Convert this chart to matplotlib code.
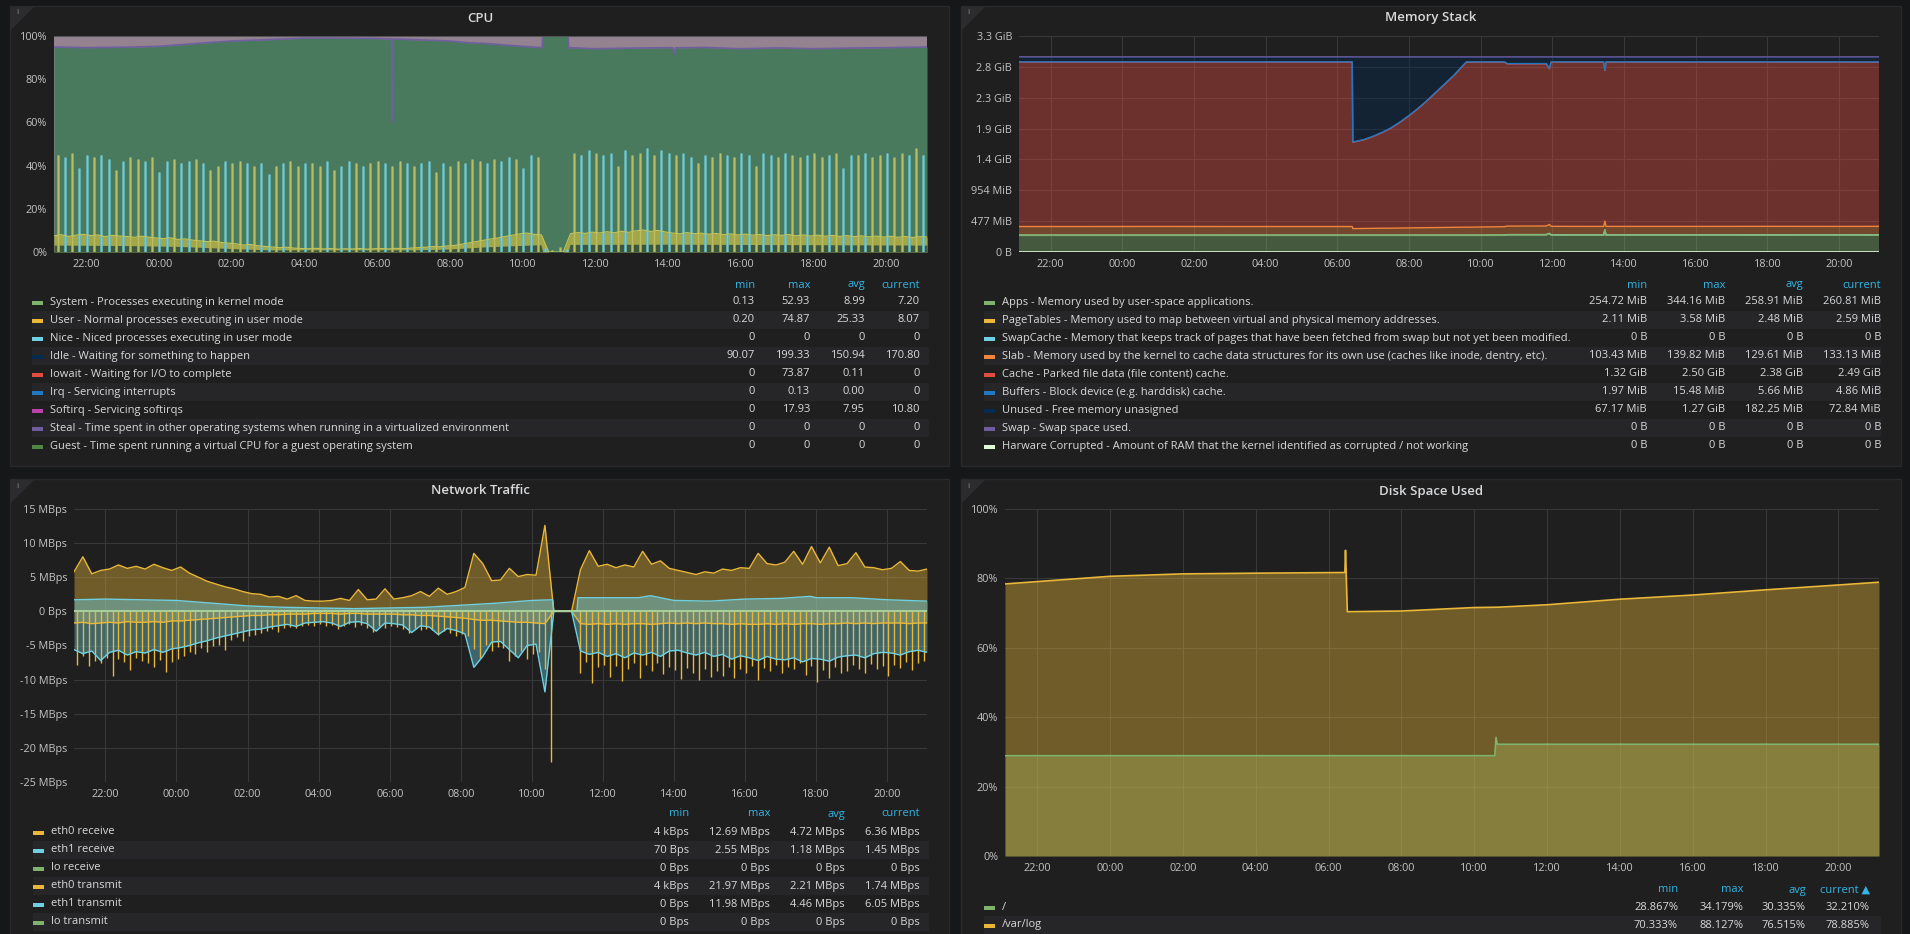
import matplotlib.pyplot as plt
import matplotlib.dates as mdates
from matplotlib.patches import Rectangle, Polygon
import numpy as np
from datetime import datetime, timedelta

plt.rcParams['font.family'] = ['Open Sans', 'DejaVu Sans']

W, H = 1910, 934
PAGE = '#161719'
PANEL = '#1f1f20'
BORDER = '#2a2a2c'
STRIPE = '#262628'
TEXT = '#d8d9da'
TICK = '#c3c3c3'
HEAD = '#33b5e5'
GRID = '#38383a'

T0 = datetime(2018, 3, 1, 21, 7)
T1 = T0 + timedelta(hours=24)


def clock(labels):
    # "HH:MM" strings -> datetimes, rolling over midnight
    out, day, prev = [], 0, -1
    for s in labels:
        h, m = (int(v) for v in s.split(':'))
        mins = h * 60 + m
        if mins < prev:
            day += 1
        prev = mins
        out.append(datetime(2018, 3, 1, h, m) + timedelta(days=day))
    return out


def grid(n, step, first=0):
    return [T0 + timedelta(minutes=first + step * i) for i in range(n)]


# ---------------- CPU (percent of stack) ----------------
cpu_labels = ['System - Processes executing in kernel mode',
              'User - Normal processes executing in user mode',
              'Nice - Niced processes executing in user mode',
              'Idle - Waiting for something to happen',
              'Iowait - Waiting for I/O to complete',
              'Irq - Servicing interrupts',
              'Softirq - Servicing softirqs',
              'Steal - Time spent in other operating systems when running in a virtualized environment',
              'Guest - Time spent running a virtual CPU for a guest operating system']
cpu_colors = ['#7eb26d', '#eab839', '#6ed0e0', '#052b51', '#e24d42',
              '#1f78c1', '#ba43a9', '#705da0', '#508642']
cpu_min = ['0.13', '0.20', '0', '90.07', '0', '0', '0', '0', '0']
cpu_max = ['52.93', '74.87', '0', '199.33', '73.87', '0.13', '17.93', '0', '0']
cpu_avg = ['8.99', '25.33', '0', '150.94', '0.11', '0.00', '7.95', '0', '0']
cpu_cur = ['7.20', '8.07', '0', '170.80', '0', '0', '10.80', '0', '0']

# top of system band
cpu_sys_times = ['21:07', '23:00', '00:30', '02:00', '03:00', '07:00', '08:00',
                 '09:00', '10:30', '10:33', '11:15', '11:18', '14:00', '21:07']
cpu_sys_top = [3.2, 3.0, 2.6, 1.6, 1.0, 1.0, 1.4, 2.4, 3.4, 0.0, 0.0, 3.5, 3.6, 3.2]

# top of user band (12 min samples from 21:07)
cpu_user_low = [
    7.5, 8.0, 7.2, 7.8, 8.2,
    7.6, 7.9, 7.1, 7.7, 7.4,
    7.2, 6.8, 7.3, 6.9, 6.5,
    6.2, 6.6, 5.8, 6.1, 5.5,
    5.2, 4.8, 5.0, 4.4, 4.1,
    3.8, 3.2, 3.5, 2.9, 2.6,
    2.3, 2.0, 2.2, 1.8, 1.6,
    1.5, 1.7, 1.4, 1.6, 1.3,
    1.5, 1.4, 1.6, 1.3, 1.5,
    1.6, 1.4, 1.7, 1.5, 1.8,
    2.0, 2.2, 2.5, 2.4, 2.8,
    3.0, 3.6, 4.2, 4.8, 5.4,
    6.0, 6.5, 7.2, 7.8, 8.4,
    8.8, 8.2, 7.9, 0.0, 0.0,
    0.0, 8.5, 9.0, 8.6, 9.2,
    8.8, 9.4, 8.9, 9.6, 9.1,
    9.8, 10.2, 9.5, 10.0, 9.3,
    8.8, 8.4, 9.0, 8.5, 8.7,
    8.2, 8.6, 8.0, 8.4, 7.9,
    8.3, 7.8, 8.1, 7.6, 8.0,
    7.7, 8.1, 7.5, 7.9, 7.4,
    7.8, 7.3, 7.7, 7.2, 7.6,
    7.1, 7.5, 7.0, 7.4, 6.9,
    7.3, 6.8, 7.2, 6.7, 7.1,
    7.0]

# user spikes (12 min samples from 21:13)
cpu_user_peak = [
    45, 44, 46, 39, 45,
    44, 45, 43, 38, 42,
    44, 43, 42, 44, 37,
    42, 43, 41, 42, 43,
    41, 38, 40, 42, 41,
    42, 41, 40, 41, 36,
    40, 41, 42, 40, 41,
    41, 40, 42, 38, 40,
    42, 41, 40, 41, 42,
    41, 40, 42, 41, 40,
    41, 42, 37, 41, 40,
    42, 41, 43, 42, 41,
    43, 42, 44, 43, 39,
    45, 44, 2.0, 1.0, 2.5,
    1.5, 46, 45, 47, 46,
    45, 46, 40, 47, 45,
    46, 48, 45, 47, 46,
    45, 46, 44, 41, 45,
    44, 46, 45, 44, 46,
    45, 40, 46, 45, 44,
    46, 45, 44, 45, 46,
    44, 45, 46, 39, 45,
    45, 46, 44, 45, 46,
    44, 46, 45, 48, 45]

cpu_idle_times = ['21:07', '22:00', '23:00', '00:00', '01:00', '02:00', '03:00',
                  '04:00', '05:00', '06:00', '06:24', '06:25', '06:26', '07:00',
                  '08:00', '08:30', '09:00', '10:00', '10:32', '10:33', '11:15',
                  '11:16', '12:00', '13:00', '14:00', '14:08', '14:10', '14:12',
                  '15:00', '16:00', '17:00', '18:00', '19:00', '20:00', '21:07']
cpu_idle_top = [94.9, 94.6, 94.8, 95.2, 96.5, 97.7, 98.3, 99.0, 99.0, 98.8,
                98.6, 60.0, 98.6, 98.3, 97.7, 96.9, 96.5, 95.2, 94.6, 100.0,
                100.0, 94.6, 94.1, 94.4, 94.6, 94.5, 91.5, 94.5, 94.7, 94.1,
                94.5, 94.1, 94.4, 94.6, 94.9]
cpu_iowait_times = ['06:24', '06:25', '06:26']
cpu_iowait_top = [98.6, 98.6, 98.6]

# ---------------- Memory (MiB, stacked) ----------------
mem_labels = ['Apps - Memory used by user-space applications.',
              'PageTables - Memory used to map between virtual and physical memory addresses.',
              'SwapCache - Memory that keeps track of pages that have been fetched from swap but not yet been modified.',
              'Slab - Memory used by the kernel to cache data structures for its own use (caches like inode, dentry, etc).',
              'Cache - Parked file data (file content) cache.',
              'Buffers - Block device (e.g. harddisk) cache.',
              'Unused - Free memory unasigned',
              'Swap - Swap space used.',
              'Harware Corrupted - Amount of RAM that the kernel identified as corrupted / not working']
mem_colors = ['#7eb26d', '#eab839', '#6ed0e0', '#ef843c', '#e24d42',
              '#1f78c1', '#052b51', '#705da0', '#e0f9d7']
mem_min = ['254.72 MiB', '2.11 MiB', '0 B', '103.43 MiB', '1.32 GiB', '1.97 MiB', '67.17 MiB', '0 B', '0 B']
mem_max = ['344.16 MiB', '3.58 MiB', '0 B', '139.82 MiB', '2.50 GiB', '15.48 MiB', '1.27 GiB', '0 B', '0 B']
mem_avg = ['258.91 MiB', '2.48 MiB', '0 B', '129.61 MiB', '2.38 GiB', '5.66 MiB', '182.25 MiB', '0 B', '0 B']
mem_cur = ['260.81 MiB', '2.59 MiB', '0 B', '133.13 MiB', '2.49 GiB', '4.86 MiB', '72.84 MiB', '0 B', '0 B']

mem_times = ['21:07', '23:00', '01:00', '03:00', '05:00', '06:25', '06:26', '06:45',
             '07:00', '07:15', '07:30', '07:45', '08:00', '08:15', '08:30', '08:45',
             '09:00', '09:15', '09:30', '09:36', '10:00', '10:40', '10:45', '11:50',
             '11:55', '11:58', '12:00', '13:00', '13:26', '13:28', '13:30', '14:00',
             '16:00', '18:00', '20:00', '21:07']
mem_apps = [256, 256, 256, 256, 256, 256, 256, 256, 256, 256, 256, 256,
            256, 256, 256, 256, 256, 256, 256, 256, 256, 257, 266, 266,
            285, 262, 261, 260, 260, 338, 260, 260, 260, 261, 260, 261]
mem_pagetables = [2.5] * 36
mem_swapcache = [0] * 36
mem_slab = [135, 135, 136, 135, 135, 135, 103, 105, 107, 109, 110, 112,
            114, 116, 118, 119, 121, 123, 125, 125, 128, 132, 132, 133,
            138, 133, 133, 133, 133, 136, 133, 133, 133, 133, 133, 133]
mem_cache = [2540, 2540, 2539, 2540, 2540, 2540, 1334, 1371, 1419, 1477, 1546, 1634,
             1732, 1840, 1958, 2087, 2215, 2343, 2491, 2549, 2546, 2541, 2506, 2505,
             2404, 2535, 2536, 2537, 2537, 2327, 2537, 2537, 2537, 2536, 2537, 2535]
mem_buffers = [5] * 36
mem_unused = [77, 77, 77, 77, 77, 77, 1314, 1275, 1225, 1165, 1095, 1005,
              905, 795, 675, 545, 415, 285, 135, 77, 77, 77, 103, 103,
              180, 77, 77, 77, 77, 206, 77, 77, 77, 77, 77, 79]
mem_swap = [0] * 36
mem_hw = [0] * 36
mem_ticks = ['0 B', '477 MiB', '954 MiB', '1.4 GiB', '1.9 GiB', '2.3 GiB', '2.8 GiB', '3.3 GiB']

# ---------------- Network (MBps) ----------------
net_labels = ['eth0 receive', 'eth1 receive', 'lo receive',
              'eth0 transmit', 'eth1 transmit', 'lo transmit']
net_colors = ['#eab839', '#6ed0e0', '#7eb26d', '#eab839', '#6ed0e0', '#7eb26d']
net_min = ['4 kBps', '70 Bps', '0 Bps', '4 kBps', '0 Bps', '0 Bps']
net_max = ['12.69 MBps', '2.55 MBps', '0 Bps', '21.97 MBps', '11.98 MBps', '0 Bps']
net_avg = ['4.72 MBps', '1.18 MBps', '0 Bps', '2.21 MBps', '4.46 MBps', '0 Bps']
net_cur = ['6.36 MBps', '1.45 MBps', '0 Bps', '1.74 MBps', '6.05 MBps', '0 Bps']
net_ticks = ['-25 MBps', '-20 MBps', '-15 MBps', '-10 MBps', '-5 MBps', '0 Bps',
             '5 MBps', '10 MBps', '15 MBps']

# 15 min samples from 21:07
eth0_rx = [
    5.8, 8.0, 5.5, 6.0,
    6.2, 6.8, 6.3, 6.6,
    6.2, 6.9, 6.4, 6.0,
    6.5, 5.6, 5.0, 4.4,
    4.0, 3.6, 3.3, 2.9,
    2.6, 2.5, 2.1, 2.2,
    1.8, 2.3, 1.6, 1.5,
    1.5, 1.6, 1.9, 1.6,
    3.2, 1.7, 1.8, 3.3,
    1.8, 2.0, 2.3, 2.9,
    2.2, 3.4, 2.5, 2.9,
    3.5, 8.5, 7.0, 4.5,
    4.6, 6.3, 5.1, 5.4,
    5.3, 12.6, 0.0, 0.0,
    0.0, 6.1, 8.9, 6.6,
    6.9, 6.4, 6.8, 6.5,
    8.8, 6.9, 7.4, 6.3,
    6.0, 5.7, 5.4, 5.8,
    5.6, 6.2, 6.0, 6.4,
    6.3, 8.5, 7.0, 6.8,
    7.2, 8.8, 6.9, 9.5,
    7.1, 9.4, 6.7, 7.0,
    8.6, 6.5, 6.4, 6.1,
    6.3, 7.3, 6.0, 5.9,
    6.2]
eth1_rx_times = ['21:07', '22:00', '23:00', '00:00', '01:00', '02:00', '03:00',
                 '04:00', '05:00', '06:00', '07:00', '08:00', '09:00', '10:00',
                 '10:35', '10:37', '11:16', '11:18', '12:00', '13:00', '13:20',
                 '14:00', '15:00', '16:00', '17:00', '17:50', '18:00', '19:00',
                 '20:00', '21:07']
eth1_rx = [1.7, 1.8, 1.7, 1.6, 1.2, 0.8, 0.6, 0.5, 0.4, 0.5, 0.6, 0.9, 1.2, 1.6,
           1.7, 0.0, 0.0, 2.0, 2.0, 2.0, 2.3, 1.6, 1.5, 1.8, 1.9, 2.2, 2.0, 2.0,
           1.7, 1.5]
eth0_tx = [
    -1.7, -1.6, -1.8, -1.7,
    -1.6, -1.7, -1.5, -1.6,
    -1.6, -1.5, -1.6, -1.4,
    -1.4, -1.3, -1.2, -1.1,
    -1.0, -0.9, -0.8, -0.7,
    -0.6, -0.6, -0.5, -0.5,
    -0.4, -0.4, -0.4, -0.3,
    -0.3, -0.3, -0.4, -0.3,
    -0.3, -0.4, -0.4, -0.4,
    -0.4, -0.5, -0.5, -0.6,
    -0.6, -0.7, -0.8, -0.9,
    -1.0, -1.2, -1.3, -1.3,
    -1.4, -1.5, -1.6, -1.6,
    -1.7, -1.8, 0.0, 0.0,
    0.0, -1.8, -1.9, -1.8,
    -1.9, -1.8, -1.9, -1.8,
    -1.8, -1.9, -1.8, -1.7,
    -1.8, -1.7, -1.8, -1.7,
    -1.8, -1.8, -1.9, -1.8,
    -1.9, -1.9, -1.8, -1.9,
    -1.8, -1.9, -1.8, -1.8,
    -1.9, -1.8, -1.8, -1.7,
    -1.8, -1.7, -1.8, -1.7,
    -1.7, -1.7, -1.8, -1.7,
    -1.7]
# transmit spikes, 10 min samples from 21:12
eth0_tx_peak = [
    -7.8, -6.5, -8.0, -7.2, -7.6, -6.8,
    -9.5, -7.0, -7.4, -8.6, -6.9, -7.3,
    -7.6, -8.2, -7.1, -8.9, -7.4, -7.0,
    -6.5, -5.9, -6.2, -5.4, -6.0, -5.1,
    -4.9, -5.6, -4.2, -3.8, -4.4, -3.6,
    -3.5, -3.1, -2.9, -2.6, -3.0, -2.5,
    -2.3, -2.4, -2.1, -2.0, -2.2, -1.9,
    -2.2, -2.0, -2.6, -2.1, -1.9, -2.3,
    -2.0, -2.4, -3.0, -2.2, -2.5, -2.1,
    -2.3, -2.6, -3.2, -2.5, -2.8, -2.6,
    -2.7, -3.4, -2.9, -3.1, -3.6, -3.3,
    -3.6, -5.5, -6.9, -4.9, -5.8, -5.2,
    -5.4, -7.3, -6.6, -5.8, -7.0, -6.2,
    -6.0, -8.5, -22.0, 0.0, 0.0, 0.0,
    0.0, -9.0, -7.4, -10.5, -8.2, -7.8,
    -9.6, -8.0, -10.2, -8.4, -7.6, -9.8,
    -7.9, -8.8, -7.5, -9.2, -8.1, -8.6,
    -9.9, -8.3, -9.0, -10.0, -8.4, -9.6,
    -8.7, -9.4, -8.2, -9.8, -8.5, -9.1,
    -8.0, -10.1, -8.3, -8.7, -7.9, -9.0,
    -8.1, -8.4, -7.6, -9.3, -8.0, -10.3,
    -8.6, -9.7, -8.2, -9.0, -8.8, -7.8,
    -8.4, -9.1, -7.7, -8.5, -8.0, -9.4,
    -7.9, -8.3, -7.4, -8.6, -7.6, -7.2]
eth1_tx = [
    -5.6, -6.2, -5.8, -7.2,
    -6.0, -5.7, -6.4, -5.9,
    -6.1, -5.6, -6.0, -5.5,
    -5.3, -5.0, -4.6, -4.3,
    -3.9, -3.6, -3.3, -3.0,
    -2.7, -2.6, -2.3, -2.1,
    -1.9, -2.2, -1.7, -1.6,
    -1.5, -1.7, -2.2, -1.6,
    -1.5, -1.8, -2.9, -1.7,
    -1.8, -2.0, -3.1, -2.1,
    -2.3, -3.4, -2.5, -2.8,
    -3.3, -8.2, -6.6, -4.5,
    -4.4, -5.6, -6.8, -5.0,
    -4.8, -11.8, 0.0, 0.0,
    0.0, -5.8, -6.3, -6.0,
    -6.6, -6.2, -6.8, -6.1,
    -6.4, -6.0, -6.6, -5.8,
    -5.7, -6.1, -6.4, -6.0,
    -6.6, -6.3, -7.0, -6.5,
    -6.8, -7.2, -6.6, -7.0,
    -7.1, -6.8, -7.4, -6.9,
    -7.0, -7.3, -6.7, -6.5,
    -6.4, -6.8, -6.2, -6.0,
    -6.1, -6.4, -5.9, -5.7,
    -6.0]
lo_rx = [0, 0]
lo_tx = [0, 0]

# ---------------- Disk (%) ----------------
disk_labels = ['/', '/var/log']
disk_colors = ['#7eb26d', '#eab839']
disk_min = ['28.867%', '70.333%']
disk_max = ['34.179%', '88.127%']
disk_avg = ['30.335%', '76.515%']
disk_cur = ['32.210%', '78.885%']
root_times = ['21:07', '10:34', '10:36', '10:38', '21:07']
root_used = [28.9, 28.9, 34.2, 32.2, 32.2]
varlog_times = ['21:07', '00:00', '02:00', '04:00', '06:27', '06:28', '06:31', '08:00',
                '10:00', '10:40', '12:00', '14:00', '16:00', '18:00', '20:00', '21:07']
varlog_used = [78.4, 80.6, 81.3, 81.5, 81.7, 88.1, 70.4, 70.6,
               71.6, 71.7, 72.4, 74.0, 75.2, 76.7, 78.1, 78.9]

# ======================================================
fig = plt.figure(figsize=(W / 100, H / 100), dpi=100, facecolor=PAGE)
bg = fig.add_axes([0, 0, 1, 1])
bg.set_xlim(0, W)
bg.set_ylim(H, 0)
bg.axis('off')

panels = [(10, 6, 949, 466), (961, 6, 1901, 466), (10, 479, 949, 960), (961, 479, 1901, 960)]
for x0, y0, x1, y1 in panels:
    bg.add_patch(Rectangle((x0, y0), x1 - x0, y1 - y0, facecolor=PANEL,
                           edgecolor=BORDER, lw=1))
    bg.add_patch(Polygon([(x0 + 1, y0 + 1), (x0 + 24, y0 + 1), (x0 + 1, y0 + 24)],
                         closed=True, facecolor='#2c2c2f', edgecolor='none'))
    bg.text(x0 + 7, y0 + 7, 'i', color='#8e8e8e', fontsize=6, ha='center', va='center')

titles = [('CPU', 480, 18), ('Memory Stack', 1431, 18),
          ('Network Traffic', 480, 491), ('Disk Space Used', 1431, 491)]
for t, x, y in titles:
    bg.text(x, y, t, color=TEXT, fontsize=9.5, fontweight='semibold', ha='center', va='center')

FS = 8.0


def legend_table(x_sw, x_right, cols, y_head, y0, labels, colors, values, head=('min', 'max', 'avg', 'current')):
    for c, h in zip(cols, head):
        bg.text(c, y_head, h, color=HEAD, fontsize=FS, ha='right', va='center')
    for k, (lab, col) in enumerate(zip(labels, colors)):
        y = y0 + 18 * k
        if k % 2 == 1:
            bg.add_patch(Rectangle((x_sw, y - 9), x_right - x_sw, 18, facecolor=STRIPE, edgecolor='none'))
        bg.add_patch(Rectangle((x_sw, y - 1), 11, 4, facecolor=col, edgecolor='none'))
        bg.text(x_sw + 18, y, lab, color=TEXT, fontsize=FS, ha='left', va='center')
        for c, vals in zip(cols, values):
            bg.text(c, y, vals[k], color=TEXT, fontsize=FS, ha='right', va='center')


legend_table(32, 929, [755, 810, 865, 920], 285, 302, cpu_labels, cpu_colors,
             [cpu_min, cpu_max, cpu_avg, cpu_cur])
legend_table(984, 1881, [1647, 1725, 1803, 1881], 285, 302, mem_labels, mem_colors,
             [mem_min, mem_max, mem_avg, mem_cur])
legend_table(33, 929, [689, 770, 845, 920], 814, 832, net_labels, net_colors,
             [net_min, net_max, net_avg, net_cur])
legend_table(984, 1881, [1678, 1743, 1806, 1870], 890, 907, disk_labels, disk_colors,
             [disk_min, disk_max, disk_avg, disk_cur], head=('min', 'max', 'avg', 'current \u25b2'))


def plot_axes(x0, y0, x1, y1):
    ax = fig.add_axes([x0 / W, 1 - y1 / H, (x1 - x0) / W, (y1 - y0) / H])
    ax.set_facecolor('none')
    for s in ax.spines.values():
        s.set_visible(False)
    ax.tick_params(length=0, colors=TICK, labelsize=7.8)
    ax.tick_params(axis='x', pad=5)
    ax.tick_params(axis='y', pad=5)
    ax.set_xlim(T0, T1)
    ax.xaxis.set_major_locator(mdates.HourLocator(byhour=range(0, 24, 2)))
    ax.xaxis.set_major_formatter(mdates.DateFormatter('%H:%M'))
    ax.grid(True, color=GRID, lw=0.8)
    ax.set_axisbelow(True)
    return ax


# ---- CPU
ax = plot_axes(54, 36, 927, 252)
ax.set_facecolor('#948290')
ax.grid(False)
ax.set_ylim(0, 100)
ax.set_yticks(range(0, 101, 20))
ax.set_yticklabels([f'{v}%' for v in range(0, 101, 20)])
t_idle = clock(cpu_idle_times)
ax.fill_between(t_idle, 0, cpu_idle_top, color='#4a7a5e', lw=0)
ax.plot(t_idle, cpu_idle_top, color='#6f5f9e', lw=1.2)
idle_at = dict(zip(cpu_idle_times, cpu_idle_top))
t_io = clock(cpu_iowait_times)
ax.fill_between(t_io, [idle_at[s] for s in cpu_iowait_times], cpu_iowait_top,
                color='#b04a40', lw=0.8, edgecolor='#b04a40')
t_peak = grid(len(cpu_user_peak), 12, first=6)
ax.vlines(t_peak, 0, cpu_user_peak, color='#5fb9c6', lw=2.1, alpha=0.85)
ax.vlines(t_peak, 0, cpu_user_peak, color='#b8bd66', lw=0.8)
t_low = grid(len(cpu_user_low), 12)
ax.fill_between(t_low, 0, cpu_user_low, color='#a4a747', lw=0)
ax.plot(t_low, cpu_user_low, color='#c3c45a', lw=0.8)
t_sys = clock(cpu_sys_times)
ax.fill_between(t_sys, 0, cpu_sys_top, color='#3e573c', lw=0)
ax.axhline(100, color='#555558', lw=1.5)

# ---- Memory
ax = plot_axes(1019, 36, 1879, 252)
MiB = 2 ** 20
layers = [mem_apps, mem_pagetables, mem_swapcache, mem_slab, mem_cache,
          mem_buffers, mem_unused, mem_swap]
t_mem = clock(mem_times)
stack = np.array(layers, dtype=float) * MiB
ax.stackplot(t_mem, stack, colors=mem_colors[:8], alpha=0.4, lw=0)
tops = np.cumsum(stack, axis=0)
for k in [1, 2, 0, 3, 4, 5, 6, 7]:
    ax.plot(t_mem, tops[k], color=mem_colors[k], lw=1)
ax.plot(t_mem, np.array(mem_hw) * MiB, color=mem_colors[8], lw=1.2)
ax.set_ylim(0, 3.5e9)
ax.set_yticks(np.arange(0, 3.6e9, 5e8))
ax.set_yticklabels(mem_ticks)

# ---- Network
ax = plot_axes(74, 509, 927, 782)
t15 = grid(len(eth0_rx), 15)
ax.fill_between(t15, 0, eth0_rx, color=net_colors[0], alpha=0.4, lw=0)
ax.plot(t15, eth0_rx, color=net_colors[0], lw=1)
t_e1 = clock(eth1_rx_times)
ax.fill_between(t_e1, 0, eth1_rx, color=net_colors[1], alpha=0.45, lw=0)
ax.plot(t_e1, eth1_rx, color=net_colors[1], lw=1)
t_pk = grid(len(eth0_tx_peak), 10, first=5)
ax.vlines(t_pk, 0, eth0_tx_peak, color=net_colors[3], lw=1.0)
ax.fill_between(t15, 0, eth0_tx, color=net_colors[3], alpha=0.4, lw=0)
ax.plot(t15, eth0_tx, color=net_colors[3], lw=1)
ax.fill_between(t15, 0, eth1_tx, color=net_colors[4], alpha=0.4, lw=0)
ax.plot(t15, eth1_tx, color=net_colors[4], lw=1)
t_lo = [T0, T1]
ax.plot(t_lo, lo_rx, color='#a9cf9a', lw=1.3)
ax.plot(t_lo, lo_tx, color='#a9cf9a', lw=1.3)
ax.set_ylim(-25, 15)
ax.set_yticks(range(-25, 16, 5))
ax.set_yticklabels(net_ticks)

# ---- Disk
ax = plot_axes(1005, 509, 1879, 856)
t_root = clock(root_times)
ax.fill_between(t_root, 0, root_used, color=disk_colors[0], alpha=0.4, lw=0)
ax.plot(t_root, root_used, color=disk_colors[0], lw=1.2)
t_var = clock(varlog_times)
ax.fill_between(t_var, 0, varlog_used, color=disk_colors[1], alpha=0.4, lw=0)
ax.plot(t_var, varlog_used, color=disk_colors[1], lw=1.2)
ax.set_ylim(0, 100)
ax.set_yticks(range(0, 101, 20))
ax.set_yticklabels([f'{v}%' for v in range(0, 101, 20)])

fig.savefig('out.png', dpi=100, facecolor=PAGE)
